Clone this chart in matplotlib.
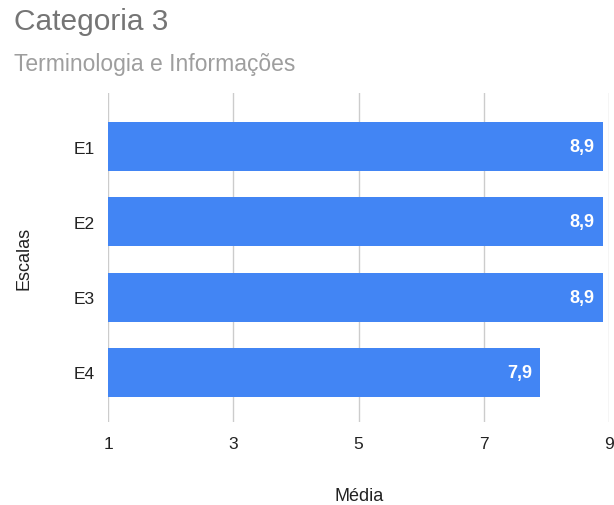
import matplotlib
matplotlib.use("Agg")
import matplotlib.pyplot as plt

# Chart data
categories = ["E1", "E2", "E3", "E4"]
values = [8.9, 8.9, 8.9, 7.9]
x_ticks = [1, 3, 5, 7, 9]

title = "Categoria 3"
subtitle = "Terminologia e Informações"
x_label = "Média"
y_label = "Escalas"

plt.rcParams["font.family"] = ["Liberation Sans", "DejaVu Sans"]

BAR_COLOR = "#4285F4"
GRID_COLOR = "#cccccc"

fig = plt.figure(figsize=(6.14, 5.06), dpi=100)
ax = fig.add_axes([0.1764, 0.164, 0.8155, 0.650])

base = x_ticks[0]
positions = list(range(len(categories)))
ax.barh(positions, [v - base for v in values], left=base, height=0.65,
        color=BAR_COLOR, linewidth=0, zorder=2)

# Value labels inside the bar ends
for pos, val in zip(positions, values):
    ax.annotate(f"{val:.1f}".replace(".", ","), xy=(val, pos),
                xytext=(-8, 0), textcoords="offset pixels",
                ha="right", va="center", color="white", fontsize=13,
                fontweight="bold", zorder=3)

ax.set_xlim(x_ticks[0], x_ticks[-1])
ax.set_ylim(3.66, -0.71)
ax.set_xticks(x_ticks)
ax.set_xticklabels([str(t) for t in x_ticks])
ax.set_yticks(positions)
ax.set_yticklabels(categories)

ax.grid(axis="x", color=GRID_COLOR, linewidth=1, zorder=0)
ax.set_axisbelow(True)
for side in ["top", "right", "bottom", "left"]:
    ax.spines[side].set_visible(False)

ax.tick_params(axis="x", length=0, pad=10, labelsize=12.5, labelcolor="#222222")
ax.tick_params(axis="y", length=0, pad=10, labelsize=12.5, labelcolor="#222222")

ax.set_xlabel(x_label, fontsize=13, color="#222222", labelpad=26)
ax.set_ylabel(y_label, fontsize=13, color="#222222", labelpad=29)

fig.text(14 / 614, 1 - 30 / 506, title, fontsize=21.5, color="#757575",
         ha="left", va="baseline")
fig.text(14 / 614, 1 - 71 / 506, subtitle, fontsize=16.5, color="#9e9e9e",
         ha="left", va="baseline")

fig.savefig("out.png", dpi=100)
